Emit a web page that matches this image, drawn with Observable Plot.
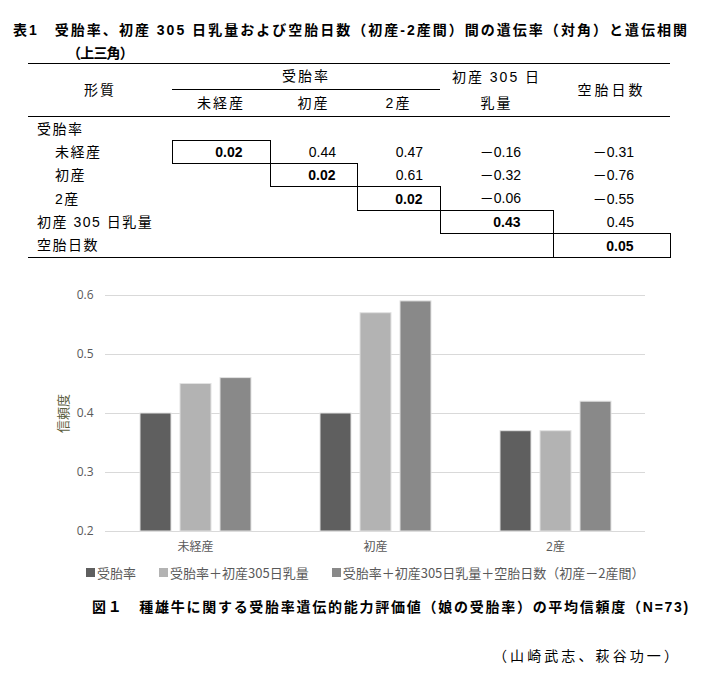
<!DOCTYPE html>
<html><head><meta charset="utf-8">
<script src="https://cdn.jsdelivr.net/npm/d3@7"></script>
<script src="https://cdn.jsdelivr.net/npm/@observablehq/plot@0.6"></script>
<style>
html,body{margin:0;padding:0;background:#fff;}
body{width:705px;height:680px;position:relative;overflow:hidden;font-family:"Liberation Sans","Noto Sans CJK JP",sans-serif;color:#000;}
.abs{position:absolute;white-space:nowrap;line-height:1;}
.bold{font-weight:bold;}
#tbl{position:absolute;left:28px;top:63px;border-collapse:collapse;table-layout:fixed;width:642px;font-size:14px;}
#tbl th,#tbl td{padding:0;font-weight:normal;white-space:nowrap;line-height:1;}
#tbl th{text-align:center;letter-spacing:2px;}
#tbl .top{border-top:1.5px solid #000;}
#tbl .hb{border-bottom:1.5px solid #000;}
#tbl .sub{border-bottom:1px solid #000;}
#tbl .bot{border-bottom:1.5px solid #000;}
#tbl .lab{text-align:left;letter-spacing:1.5px;}
#tbl .val{text-align:right;}
#tbl .box{border:1px solid #000;font-weight:bold;}
#chart{position:absolute;left:0;top:270px;}
#legend{position:absolute;left:86px;top:563px;font-size:13px;color:#595959;font-family:"Noto Sans CJK JP",sans-serif;white-space:nowrap;display:flex;align-items:center;}
#legend .item{display:flex;align-items:center;margin-right:23px;}
#legend .sw{width:9px;height:9px;margin-right:2px;display:inline-block;}
</style>
</head><body>
<div id="t1" class="abs bold" style="left:13px;top:23px;font-size:14px;"></div>
<div id="t2" class="abs bold" style="left:67px;top:46px;font-size:14px;"></div>
<table id="tbl"></table>
<div id="chart"></div>
<div id="legend"></div>
<div id="cap" class="abs bold" style="left:92px;top:600px;font-size:14px;"></div>
<div id="auth" class="abs" style="left:493px;top:649px;font-size:14px;"></div>
<script>
// ---------- text ----------
const tableTitle1 = "表1　受胎率、初産 305 日乳量および空胎日数（初産-2産間）間の遺伝率（対角）と遺伝相関";
const tableTitle2 = "（上三角）";
const figCaption = "図１　種雄牛に関する受胎率遺伝的能力評価値（娘の受胎率）の平均信頼度（N=73)";
const authors = "（山崎武志、萩谷功一）";

// ---------- table data ----------
const headTrait = "形質";
const headGroup = "受胎率";
const headSub = ["未経産", "初産", "2産"];
const headMilk = ["初産 305 日", "乳量"];
const headOpen = "空胎日数";
const rowLabels = ["受胎率", "未経産", "初産", "2産", "初産 305 日乳量", "空胎日数"];
const rowIsSub = [false, true, true, true, false, false];
const valUnparous = [0.02, 0.44, 0.47, -0.16, -0.31];
const valFirst = [null, 0.02, 0.61, -0.32, -0.76];
const valSecond = [null, null, 0.02, -0.06, -0.55];
const valMilk = [null, null, null, 0.43, 0.45];
const valOpen = [null, null, null, null, 0.05];

// ---------- chart data ----------
const groups = ["未経産", "初産", "2産"];
const series = ["受胎率", "受胎率＋初産305日乳量", "受胎率＋初産305日乳量＋空胎日数（初産－2産間）"];
const relS1 = [0.40, 0.40, 0.37];
const relS2 = [0.45, 0.57, 0.37];
const relS3 = [0.46, 0.59, 0.42];
const yTicks = [0.2, 0.3, 0.4, 0.5, 0.6];
const yLabel = "信頼度";
const barColors = ["#5f5f5f", "#b3b3b3", "#898989"];

// ---------- titles ----------
function fitText(id, text, width) {
  const el = document.getElementById(id);
  el.textContent = text;
  const n = [...text].length;
  const w = el.getBoundingClientRect().width;
  el.style.letterSpacing = ((width - w) / n) + "px";
}
fitText("t1", tableTitle1, 676);
fitText("t2", tableTitle2, 66);
fitText("cap", figCaption, 598);
fitText("auth", authors, 188);

// ---------- table ----------
const colW = [144, 98, 87, 83, 113, 117];
const padR = [27, 21, 17, 32, 36];
const rowH = [24, 23, 23, 24, 23, 24];
const fmt = v => v == null ? "" : (v < 0 ? "－" : "") + Math.abs(v).toFixed(2);
const valueRows = [null, valUnparous, valFirst, valSecond, valMilk, valOpen];
let html = "<colgroup>" + colW.map(w => `<col style="width:${w}px">`).join("") + "</colgroup>";
html += `<tr style="height:24px"><th rowspan="2" class="top hb">${headTrait}</th><th colspan="3" class="top sub">${headGroup}</th><th rowspan="2" class="top hb" style="line-height:26px">${headMilk.join("<br>")}</th><th rowspan="2" class="top hb" style="letter-spacing:3px">${headOpen}</th></tr>`;
html += `<tr style="height:25px">` + headSub.map(h => `<th class="hb">${h}</th>`).join("") + `</tr>`;
rowLabels.forEach((lab, r) => {
  const last = r === rowLabels.length - 1;
  html += `<tr style="height:${rowH[r]}px">`;
  html += `<td class="lab${last ? " bot" : ""}" style="padding-left:${rowIsSub[r] ? 27 : 9}px">${lab}</td>`;
  const vals = valueRows[r];
  for (let c = 0; c < 5; c++) {
    const v = vals ? vals[c] : null;
    const diag = vals && (c === r - 1);
    html += `<td class="val${diag ? " box" : ""}${last ? " bot" : ""}" style="padding-right:${padR[c]}px">${fmt(v)}</td>`;
  }
  html += `</tr>`;
});
document.getElementById("tbl").innerHTML = html;

// ---------- chart ----------
const rows = [];
const seriesValues = [relS1, relS2, relS3];
groups.forEach((g, gi) => series.forEach((s, si) => rows.push({group: g, series: s, value: seriesValues[si][gi]})));

const plot = Plot.plot({
  width: 705,
  height: 291,
  marginLeft: 105,
  marginRight: 60,
  marginTop: 25,
  marginBottom: 30,
  style: {fontFamily: '"Open Sans","Noto Sans CJK JP",sans-serif', fontSize: "12px", color: "#595959", background: "transparent", overflow: "visible"},
  fx: {domain: groups, padding: 0, label: null, axis: "bottom", tickSize: 0, tickPadding: 11},
  x: {domain: series, axis: null, paddingInner: 0.225, paddingOuter: 0.8625},
  y: {domain: [yTicks[0], yTicks[yTicks.length - 1]], ticks: yTicks, tickFormat: ".1f", tickSize: 0, tickPadding: 12, label: yLabel, labelAnchor: "center", labelOffset: 47, labelArrow: "none"},
  color: {domain: series, range: barColors},
  marks: [
    Plot.ruleY(yTicks, {stroke: "#d9d9d9", strokeWidth: 1}),
    Plot.barY(rows, {fx: "group", x: "series", y1: yTicks[0], y2: "value", fill: "series", stroke: "#e2e2e2", strokeWidth: 1})
  ]
});
document.getElementById("chart").appendChild(plot);
// tint the axis title
d3.select(plot).selectAll("text").filter(function() { return this.textContent.trim() === yLabel; })
  .attr("fill", "#5c6040").style("font-family", '"Noto Sans CJK JP",sans-serif').style("font-size", "13px");

// ---------- legend ----------
const lg = document.getElementById("legend");
const colorScale = plot.scale("color");
series.forEach((s, i) => {
  const it = document.createElement("div");
  it.className = "item";
  it.innerHTML = `<span class="sw" style="background:${colorScale.range[i]}"></span><span>${s}</span>`;
  lg.appendChild(it);
});
</script>
</body></html>
